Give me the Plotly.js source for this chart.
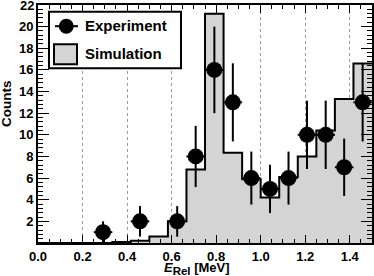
<!DOCTYPE html>
<html>
<head>
<meta charset="utf-8">
<script src="https://cdn.plot.ly/plotly-3.0.1.min.js"></script>
<style>html,body{margin:0;padding:0;background:#fff;}#chart{width:374px;height:276px;}</style>
</head>
<body>
<div id="chart"></div>
<script>
// ---- data ----
const binWidth = 1 / 12; // MeV
const simCounts = [0, 0, 0, 0, 0.1, 0.2, 0.6, 2.0, 6.8, 21.2, 8.35, 5.9, 4.2, 6.1, 8.0, 10.4, 13.3, 16.6];
const expE = [0.292, 0.458, 0.625, 0.708, 0.792, 0.875, 0.958, 1.042, 1.125, 1.208, 1.292, 1.375, 1.458];
const expCounts = [1, 2, 2, 8, 16, 13, 6, 5, 6, 10, 10, 7, 13];
const expErr = [1.0, 1.41, 1.41, 2.83, 4.0, 3.61, 2.45, 2.24, 2.45, 3.16, 3.16, 2.65, 3.61];
const xTickVals = [0, 0.2, 0.4, 0.6, 0.8, 1.0, 1.2, 1.4];
const xTickText = ['0.0', '0.2', '0.4', '0.6', '0.8', '1.0', '1.2', '1.4'];
const yTickVals = [2, 4, 6, 8, 10, 12, 14, 16, 18, 20];
const yTickText = ['2', '4', '6', '8', '10', '12', '14', '16', '18', '20'];
const yTopTick = 22; // label at the very top edge of the frame
const legendLabels = ['Experiment', 'Simulation'];
const xTitle = '<i>E</i><sub><span style="font-size:11.5px">Rel</span></sub> [MeV]';
const yTitle = 'Counts';

// histogram step outline from bin edges
const edges = simCounts.map((_, i) => i * binWidth).concat([simCounts.length * binWidth]);
const stepY = simCounts.concat([simCounts[simCounts.length - 1]]);

const FONT = 'Liberation Sans, Arial, Helvetica, sans-serif';
const GRAY = '#d4d4d4';

const traces = [
  {
    type: 'scatter', mode: 'lines', x: edges, y: stepY,
    line: {shape: 'hv', color: '#000', width: 2},
    fill: 'tozeroy', fillcolor: GRAY, showlegend: false, hoverinfo: 'skip'
  },
  {
    type: 'scatter', mode: 'markers', x: expE, y: expCounts,
    marker: {symbol: 'circle', size: 16, color: '#000'},
    error_y: {type: 'data', array: expErr, visible: true, color: '#000', thickness: 2, width: 0},
    error_x: {type: 'constant', value: binWidth / 2, visible: true, color: '#000', thickness: 2, width: 0},
    showlegend: false, cliponaxis: false
  }
];

// plot-area pixel helpers for the hand-drawn legend
const L = 38, T = 5, W = 334, H = 238;
const px = v => (v - L) / W;
const py = v => (T + H - v) / H;

const layout = {
  width: 374, height: 276,
  margin: {l: L, r: 374 - L - W, t: T, b: 276 - T - H, pad: 0},
  paper_bgcolor: '#fff', plot_bgcolor: '#fff',
  font: {family: FONT, color: '#000', size: 13},
  showlegend: false,
  xaxis: {
    range: [-0.0002, 1.5], tickmode: 'array', tickvals: xTickVals, ticktext: xTickText,
    ticks: 'inside', ticklen: 8, tickwidth: 1, tickcolor: '#000', ticklabeloverflow: 'allow',
    minor: {dtick: 0.05, tick0: 0, ticks: 'inside', ticklen: 4, tickwidth: 1, tickcolor: '#000', showgrid: false},
    showline: true, linecolor: '#000', linewidth: 2, mirror: 'allticks',
    showgrid: true, gridcolor: '#9a9a9a', griddash: 'dot', gridwidth: 1,
    zeroline: false, tickfont: {family: FONT, size: 13, weight: 'bold'}
  },
  yaxis: {
    range: [0, 22], tickmode: 'array', tickvals: yTickVals, ticktext: yTickText,
    ticks: 'inside', ticklen: 11, tickwidth: 1, tickcolor: '#000',
    minor: {dtick: 0.4, tick0: 0, ticks: 'inside', ticklen: 5, tickwidth: 1, tickcolor: '#000', showgrid: false},
    showline: true, linecolor: '#000', linewidth: 2, mirror: 'allticks',
    showgrid: false, zeroline: false, tickfont: {family: FONT, size: 13, weight: 'bold'}
  },
  shapes: [
    // legend box
    {type: 'rect', xref: 'paper', yref: 'paper', x0: px(49), x1: px(181), y0: py(68.3), y1: py(11.7),
     fillcolor: '#fff', line: {color: '#000', width: 2}, layer: 'above'},
    // Experiment symbol
    {type: 'line', xref: 'paper', yref: 'paper', x0: px(55), x1: px(78), y0: py(26.2), y1: py(26.2),
     line: {color: '#000', width: 2}, layer: 'above'},
    {type: 'circle', xref: 'paper', yref: 'paper', xsizemode: 'pixel', ysizemode: 'pixel',
     xanchor: px(66.3), yanchor: py(26.2), x0: -7.5, x1: 7.5, y0: -7.5, y1: 7.5,
     fillcolor: '#000', line: {color: '#000', width: 0}, layer: 'above'},
    // Simulation symbol
    {type: 'rect', xref: 'paper', yref: 'paper', x0: px(54), x1: px(77), y0: py(64.3), y1: py(44.3),
     fillcolor: GRAY, line: {color: '#000', width: 2}, layer: 'above'}
  ],
  annotations: [
    {xref: 'paper', yref: 'y', x: 0, y: yTopTick, xanchor: 'right', yanchor: 'middle', xshift: -2, yshift: 0,
     text: String(yTopTick), showarrow: false, font: {family: FONT, size: 13, weight: 'bold'}},
    {xref: 'paper', yref: 'paper', x: px(83), y: py(25.5), xanchor: 'left', yanchor: 'middle',
     text: legendLabels[0], showarrow: false, font: {family: FONT, size: 15, weight: 'bold'}},
    {xref: 'paper', yref: 'paper', x: px(83), y: py(53.5), xanchor: 'left', yanchor: 'middle',
     text: legendLabels[1], showarrow: false, font: {family: FONT, size: 15, weight: 'bold'}},
    {xref: 'paper', yref: 'paper', x: px(162), y: py(268.5), xanchor: 'left', yanchor: 'middle',
     text: xTitle, showarrow: false, font: {family: FONT, size: 13, weight: 'bold'}},
    {xref: 'paper', yref: 'paper', x: px(7), y: py(104), xanchor: 'center', yanchor: 'middle', textangle: -90,
     text: yTitle, showarrow: false, font: {family: FONT, size: 13.5, weight: 'bold'}}
  ]
};

Plotly.newPlot('chart', traces, layout, {staticPlot: true, displayModeBar: false});
</script>
</body>
</html>
